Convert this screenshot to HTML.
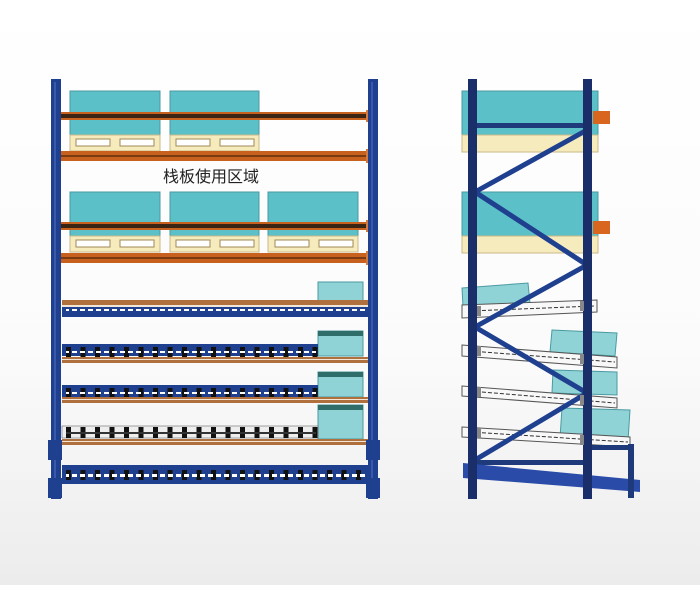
<!DOCTYPE html>
<html><head><meta charset="utf-8"><style>
html,body{margin:0;padding:0;}
body{width:700px;height:585px;overflow:hidden;background:linear-gradient(#ffffff 0%,#fbfbfb 60%,#ececec 100%);}
</style></head><body>
<svg width="700" height="585" viewBox="0 0 700 585" xmlns="http://www.w3.org/2000/svg">
<defs>
<pattern id="rol" x="62" y="0" width="14.5" height="1000" patternUnits="userSpaceOnUse">
<rect x="4" y="0" width="5" height="1000" fill="#111"/>
</pattern>
<pattern id="dash" x="0" y="0" width="8" height="1000" patternUnits="userSpaceOnUse">
<rect x="0" y="0" width="5" height="1000" fill="#fff"/>
</pattern>
</defs>

<!-- LEFT FRAME -->
<g stroke="#4a9aa2" stroke-width="1">
<rect x="70" y="91" width="90" height="44" fill="#5cc0c8"/>
<rect x="170" y="91" width="89" height="44" fill="#5cc0c8"/>
<rect x="70" y="192" width="90" height="44" fill="#5cc0c8"/>
<rect x="170" y="192" width="89" height="44" fill="#5cc0c8"/>
<rect x="268" y="192" width="90" height="44" fill="#5cc0c8"/>
</g>
<g fill="#f6ebbd" stroke="#c9b888">
<rect x="70" y="135" width="90" height="16"/><rect x="170" y="135" width="89" height="16"/>
<rect x="70" y="236" width="90" height="16"/><rect x="170" y="236" width="89" height="16"/><rect x="268" y="236" width="90" height="16"/>
</g>
<g fill="#fff" stroke="#a08a55" stroke-width="1">
<rect x="76" y="139" width="34" height="7"/><rect x="120" y="139" width="34" height="7"/>
<rect x="176" y="139" width="34" height="7"/><rect x="220" y="139" width="34" height="7"/>
<rect x="76" y="240" width="34" height="7"/><rect x="120" y="240" width="34" height="7"/>
<rect x="176" y="240" width="34" height="7"/><rect x="220" y="240" width="34" height="7"/>
<rect x="275" y="240" width="34" height="7"/><rect x="319" y="240" width="34" height="7"/>
</g>
<rect x="58" y="112" width="313" height="8" fill="#c8601e"/><rect x="60" y="114" width="308" height="4" fill="#3a2414"/>
<rect x="58" y="151" width="313" height="10" fill="#c8601e"/><rect x="60" y="155" width="308" height="2" fill="#7a3a12"/>
<rect x="58" y="222" width="313" height="8" fill="#c8601e"/><rect x="60" y="224" width="308" height="4" fill="#3a2414"/>
<rect x="58" y="253" width="313" height="10" fill="#c8601e"/><rect x="60" y="257" width="308" height="2" fill="#7a3a12"/>
<g fill="#d07a40"><rect x="55" y="110" width="6" height="12"/><rect x="366" y="110" width="6" height="12"/><rect x="55" y="149" width="6" height="14"/><rect x="366" y="149" width="6" height="14"/><rect x="55" y="220" width="6" height="12"/><rect x="366" y="220" width="6" height="12"/><rect x="55" y="251" width="6" height="14"/><rect x="366" y="251" width="6" height="14"/></g>
<text x="211" y="182" font-family="Liberation Sans, Noto Sans CJK SC, sans-serif" font-size="16" text-anchor="middle" fill="#222">栈板使用区域</text>

<!-- flow levels -->
<rect x="318" y="282" width="45" height="19" fill="#8fd3d6" stroke="#4a9aa2"/>
<rect x="62" y="300" width="308" height="5" fill="#b0703e"/>
<rect x="62" y="305" width="308" height="2" fill="#f2e6d6"/>
<rect x="62" y="307" width="308" height="10" fill="#1f3f8f"/>
<rect x="66" y="309" width="300" height="2" fill="url(#dash)"/>

<g>
<rect x="318" y="331" width="45" height="25" fill="#8fd3d6" stroke="#4a9aa2"/><rect x="318" y="331" width="45" height="5" fill="#2f6d6a"/>
<rect x="62" y="344" width="256" height="12" fill="#1f3f8f"/><rect x="62" y="347" width="256" height="10" fill="url(#rol)"/>
<rect x="66" y="351" width="250" height="2" fill="url(#dash)"/>
<rect x="62" y="357" width="308" height="6" fill="#b0703e"/><rect x="62" y="359" width="308" height="1" fill="#f2e6d6"/>
</g>
<g>
<rect x="318" y="372" width="45" height="25" fill="#8fd3d6" stroke="#4a9aa2"/><rect x="318" y="372" width="45" height="5" fill="#2f6d6a"/>
<rect x="62" y="385" width="256" height="12" fill="#1f3f8f"/><rect x="62" y="388" width="256" height="10" fill="url(#rol)"/>
<rect x="66" y="392" width="250" height="2" fill="url(#dash)"/>
<rect x="62" y="397" width="308" height="6" fill="#b0703e"/><rect x="62" y="399" width="308" height="1" fill="#f2e6d6"/>
</g>
<g>
<rect x="318" y="405" width="45" height="34" fill="#8fd3d6" stroke="#4a9aa2"/><rect x="318" y="405" width="45" height="5" fill="#2f6d6a"/>
<rect x="62" y="426" width="256" height="12" fill="#eeeeee" stroke="#666" stroke-width="0.6"/><rect x="62" y="427" width="256" height="11" fill="url(#rol)"/>
<rect x="66" y="432" width="250" height="2" fill="#333"/>
<rect x="62" y="439" width="308" height="6" fill="#b0703e"/><rect x="62" y="441" width="308" height="1" fill="#f2e6d6"/>
</g>
<rect x="62" y="465" width="308" height="19" fill="#1f3f8f"/>
<rect x="62" y="470" width="308" height="10" fill="url(#rol)"/>
<rect x="66" y="474" width="300" height="3" fill="url(#dash)"/>

<rect x="51" y="79" width="10" height="420" fill="#1f3f8f"/><rect x="54" y="82" width="2" height="414" fill="#4a6ac0" opacity="0.6"/>
<rect x="368" y="79" width="10" height="420" fill="#1f3f8f"/><rect x="371" y="82" width="2" height="414" fill="#4a6ac0" opacity="0.6"/>
<rect x="48" y="440" width="14" height="20" fill="#1f3f8f"/><rect x="48" y="478" width="14" height="20" fill="#1f3f8f"/>
<rect x="366" y="440" width="14" height="20" fill="#1f3f8f"/><rect x="366" y="478" width="14" height="20" fill="#1f3f8f"/>

<!-- RIGHT SIDE VIEW -->
<rect x="462" y="91" width="136" height="44" fill="#5cc0c8" stroke="#4a9aa2"/>
<rect x="462" y="135" width="136" height="17" fill="#f6ebbd" stroke="#c9b888"/>
<rect x="462" y="192" width="136" height="44" fill="#5cc0c8" stroke="#4a9aa2"/>
<rect x="462" y="236" width="136" height="17" fill="#f6ebbd" stroke="#c9b888"/>
<rect x="593" y="111" width="17" height="13" fill="#d8661e"/>
<rect x="593" y="221" width="17" height="13" fill="#d8661e"/>
<rect x="473" y="123" width="115" height="5" fill="#1f3a7a"/>

<polygon points="462,288 528,283 530,303 463,307" fill="#8fd3d6" stroke="#4a9aa2"/>
<polygon points="552,330 617,333 615,356 550,352" fill="#8fd3d6" stroke="#4a9aa2"/>
<polygon points="553,370 617,372 617,395 552,393" fill="#8fd3d6" stroke="#4a9aa2"/>
<polygon points="562,408 630,410 628,441 560,438" fill="#8fd3d6" stroke="#4a9aa2"/>

<g stroke="#555" stroke-width="1" fill="#f8f8f8">
<polygon points="462,305 597,300 597,312 462,318"/>
<polygon points="462,345 617,357 617,368 462,356"/>
<polygon points="462,386 617,398 617,408 462,396"/>
<polygon points="462,427 630,437 630,447 462,437"/>
</g>
<g stroke="#333" stroke-width="1" stroke-dasharray="4,2">
<line x1="470" y1="311" x2="595" y2="306"/>
<line x1="470" y1="351" x2="615" y2="362"/>
<line x1="470" y1="391" x2="615" y2="403"/>
<line x1="470" y1="432" x2="628" y2="442"/>
</g>

<g stroke="#1f3f8f" stroke-width="5" stroke-linecap="round">
<line x1="587" y1="130" x2="475" y2="192"/>
<line x1="475" y1="192" x2="587" y2="265"/>
<line x1="587" y1="265" x2="475" y2="327"/>
<line x1="475" y1="327" x2="587" y2="393"/>
<line x1="587" y1="393" x2="475" y2="460"/>
</g>
<rect x="473" y="460" width="115" height="5" fill="#1f3a7a"/>
<polygon points="463,463 640,480 640,492 463,478" fill="#2a4ca8"/>
<rect x="588" y="445" width="45" height="5" fill="#1f3a7a"/>
<rect x="628" y="444" width="6" height="54" fill="#1f3a7a"/>
<rect x="468" y="79" width="9" height="420" fill="#1a2f6a"/>
<rect x="583" y="79" width="9" height="420" fill="#1a2f6a"/>
<g fill="#888"><rect x="477" y="306" width="4" height="10"/><rect x="580" y="301" width="4" height="10"/><rect x="477" y="346" width="4" height="10"/><rect x="580" y="354" width="4" height="10"/><rect x="477" y="387" width="4" height="10"/><rect x="580" y="395" width="4" height="10"/><rect x="477" y="428" width="4" height="10"/><rect x="580" y="435" width="4" height="10"/></g>
</svg>
</body></html>
